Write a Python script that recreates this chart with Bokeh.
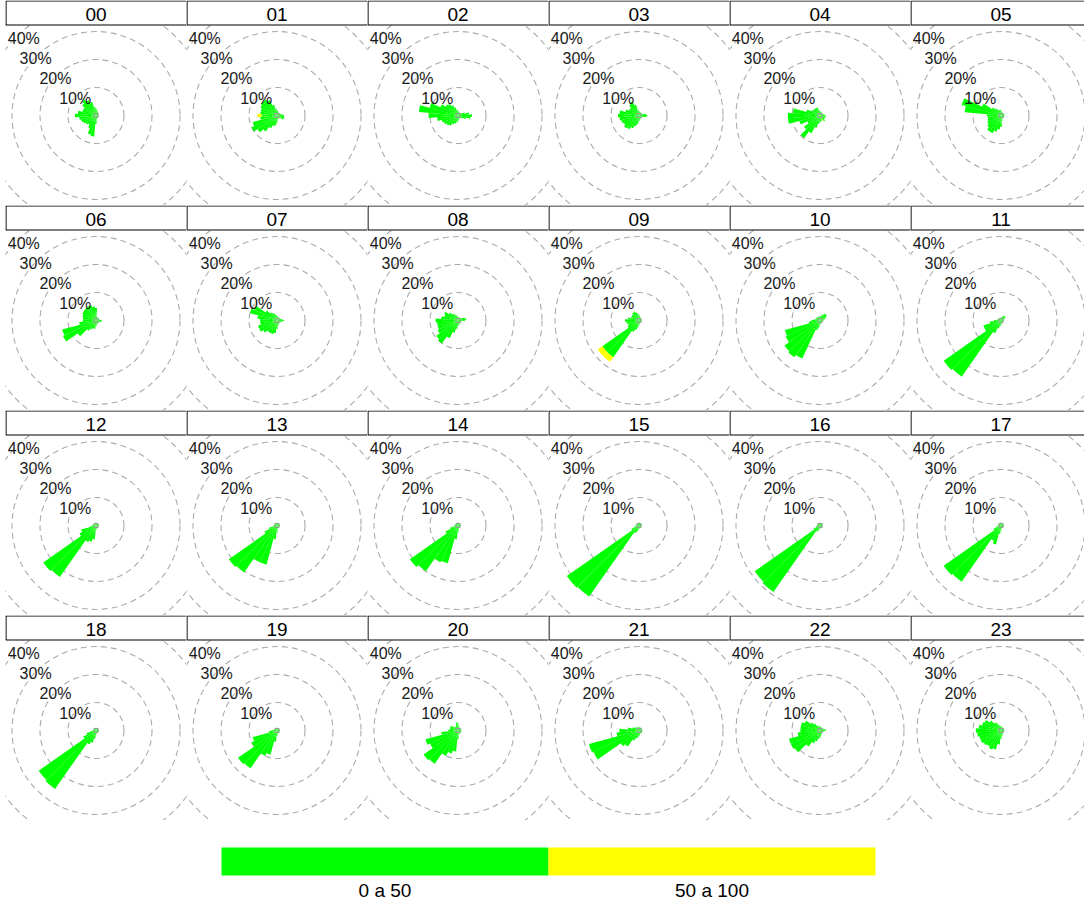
import numpy as np
from bokeh.plotting import figure
from bokeh.layouts import row, column, Spacer
from bokeh.models import Range1d, ColumnDataSource
from bokeh.embed import file_html
from bokeh.resources import INLINE
from bokeh.core.properties import value

# ---------------- data ----------------
DIRECTIONS = list(range(10, 361, 10))          # wind direction bins (deg, from north, clockwise)
HOURS = ["%02d" % h for h in range(24)]
RING_VALUES = [10, 20, 30, 40]
RING_LABELS = ["10%", "20%", "30%", "40%"]
LEGEND_LABELS = ["0 a 50", "50 a 100"]
LEGEND_COLORS = ["#00FF00", "#FFFF00"]

# frequency (%) of the "0 a 50" interval, per direction bin 10..360
H00 = [2, 1.5, 1.5, 1.2, 1, 1, 1, 1, 1, 1, 1, 1, 1, 1, 1, 1.2, 1.5, 3,
       7.5, 7, 5, 4, 4.5, 5, 5.5, 6, 7.5, 6.5, 5, 5, 6, 7, 6, 5, 3, 2.5]
H01 = [1.5, 1.5, 1.2, 1.2, 1.2, 1.2, 1.5, 2, 2.5, 2.5, 2.8, 2.5, 1.5, 1.2, 1.2, 1.2, 1.5, 2.5,
       3.5, 4, 5, 7, 8.5, 10, 9, 6, 5.5, 6, 6, 6.5, 7, 7, 6, 4, 2.5, 2]
H02 = [1.5, 1.2, 1.2, 1.2, 1.2, 1.5, 2.5, 4, 5, 4.5, 3, 2, 1.5, 1.2, 1.2, 1.2, 1.5, 2,
       2.5, 3, 3.5, 4.5, 5, 5.5, 6, 7.5, 10.5, 14, 10.5, 7, 5.5, 5, 4, 3, 2, 1.5]
H03 = [1.2, 1.2, 1.2, 1.2, 1.2, 1.2, 1.5, 2.5, 3, 2.5, 1.5, 1.2, 1.2, 1.2, 1.2, 1.2, 1.5, 2,
       3, 4, 5, 6, 6.5, 6, 6.5, 7, 7.5, 7, 5, 4, 4, 5, 5.5, 4, 2, 1.5]
H04 = [1.2, 1.2, 1.2, 1.2, 1.2, 1.2, 1.2, 1.5, 2, 2, 2, 2, 2, 2.5, 1.5, 2, 2, 2.5,
       3, 4.5, 7, 9.8, 7, 5, 7.6, 11.5, 11.5, 9.7, 5, 3.5, 3, 3, 3, 3, 2, 1.5]
H05 = [1.2, 1.2, 1.2, 1.2, 1.2, 1.2, 1.2, 1.2, 1.2, 1.2, 1.2, 1.2, 1.2, 1.2, 1.2, 1.2, 2, 4,
       5, 6, 7, 7, 6, 5.4, 5, 4.7, 5, 13, 14.5, 7.5, 4, 3, 2.5, 2, 2, 2]
H06 = [1.5, 1.2, 1.2, 1.2, 1.2, 1.2, 1.2, 1.5, 2, 2, 1.5, 1.2, 1.2, 1.2, 1.2, 1.2, 1.5, 2,
       3, 3, 3.5, 4.5, 8, 13, 12.5, 6, 4.7, 4.7, 5, 5.4, 5.5, 5.6, 5.8, 5.5, 5, 4.5]
H07 = [1.5, 1.2, 1.2, 1.2, 1.2, 1.2, 1.5, 2, 2.5, 2, 1.5, 1.2, 1.2, 1.2, 1.2, 1.5, 2, 3,
       4.5, 5, 5, 5, 6, 7, 7, 6, 6, 7, 10, 9, 5, 3.5, 3, 2.5, 2, 1.5]
H08 = [1.2, 1.2, 1.2, 1.2, 1.2, 1.5, 2.5, 3, 2.5, 1.5, 1.2, 1.2, 1.2, 1.2, 1.2, 1.5, 1.5, 2,
       3, 4.5, 7, 10, 9.5, 8, 7.5, 7.5, 8, 6, 5, 5.5, 4, 3, 2.5, 2, 1.5, 1.2]
H09 = [1.5, 1.2, 1.2, 1, 1, 1, 1, 1, 1, 1, 1, 1, 1, 1, 1, 1, 1.2, 1.5,
       2.5, 3.5, 4.5, 16, 16, 4.5, 4, 4.5, 5, 4, 3, 3, 3, 3.5, 3.5, 3, 2.5, 2]
H10 = [1.5, 2, 2.5, 3, 3, 2.5, 2, 1.5, 1.2, 1, 1, 1, 1, 1, 1, 1, 1.2, 1.5,
       2.5, 3.5, 15, 16, 15.5, 13.5, 13, 4, 3, 2, 1.5, 1.5, 1.5, 1.5, 1.5, 1.5, 1.5, 1.5]
H11 = [1.2, 1.5, 2, 2, 2, 1.5, 1.2, 1, 1, 1, 1, 1, 1, 1, 1, 1, 1.2, 1.5,
       2, 3, 5, 24.5, 25, 6.5, 6.5, 4, 2.5, 1.5, 1.2, 1, 1, 1, 1, 1, 1, 1]
H12 = [1, 1, 1, 1, 1, 1, 1, 1, 1, 1, 1, 1, 1, 1, 1, 1, 1.2, 1.5,
       5, 6, 6.5, 22.5, 23, 6.5, 5.5, 2, 1.5, 1.2, 1, 1, 1, 1, 1, 1, 1, 1]
H13 = [1, 1, 1, 1, 1, 1, 1, 1, 1, 1, 1, 1, 1, 1, 1, 1, 1.2, 2.5,
       5, 14.5, 14.5, 20.5, 21, 5, 3, 1.5, 1.2, 1, 1, 1, 1, 1, 1, 1, 1, 1]
H14 = [1, 1, 1, 1, 1, 1, 1, 1, 1, 1, 1, 1, 1, 1, 1, 1, 1.2, 2.5,
       5, 14, 14.5, 20, 21, 5, 3, 1.5, 1.2, 1, 1, 1, 1, 1, 1, 1, 1, 1]
H15 = [1, 1, 1, 1, 1, 1, 1, 1, 1, 1, 1, 1, 1, 1, 1, 1, 1, 1.2,
       1.5, 2.5, 3, 31, 31.5, 3, 2, 1.2, 1, 1, 1, 1, 1, 1, 1, 1, 1, 1]
H16 = [1, 1, 1, 1, 1, 1, 1, 1, 1, 1, 1, 1, 1, 1, 1, 1, 1, 1.2,
       1.2, 2, 2.5, 29, 28.5, 2.5, 1.5, 1.2, 1, 1, 1, 1, 1, 1, 1, 1, 1, 1]
H17 = [1, 1, 1, 1, 1, 1, 1, 1, 1, 1, 1, 1, 1, 1, 1, 1, 1.2, 1.5,
       3, 7, 6, 24.5, 25, 3, 2, 1.2, 1, 1, 1, 1, 1, 1, 1, 1, 1, 1]
H18 = [1, 1, 1, 1, 1, 1, 1, 1, 1, 1, 1, 1, 1, 1, 1, 1, 1.2, 1.5,
       3, 4.5, 5.5, 25.5, 25, 5, 3.5, 2, 1.2, 1, 1, 1, 1, 1, 1, 1, 1, 1]
H19 = [1, 1, 1, 1, 1, 1, 1, 1, 1, 1, 1, 1, 1, 1, 1, 1, 1.2, 2,
       4, 9, 10, 16.5, 17, 10, 9, 3, 2, 1.2, 1, 1, 1, 1, 1, 1, 1, 1]
H20 = [1.5, 1.2, 1.2, 1.2, 1.2, 1.2, 1.2, 1.2, 1.2, 1.2, 1.2, 1.2, 1.2, 1.2, 1.2, 1.2, 1.5, 3,
       7.5, 8.5, 10, 14.5, 15, 11, 12, 6, 3.5, 3, 3, 3, 2, 1.5, 1.5, 2, 3, 2.5]
H21 = [1.2, 1.2, 1.2, 1.2, 1.2, 1.2, 1.2, 1.2, 1.2, 1.2, 1.2, 1.2, 1.2, 1.2, 1.2, 1.2, 1.5, 2,
       2.5, 3, 4, 7, 8, 18, 18.5, 8, 7, 4, 2.5, 2, 1.5, 1.5, 1.2, 1.2, 1.2, 1.2]
H22 = [1.5, 1.2, 1.2, 1.2, 1.2, 1.2, 1.5, 2, 2, 1.5, 1.2, 1.2, 1.2, 1.2, 1.2, 1.5, 2, 2.5,
       3, 4, 5, 7, 11, 11.5, 11.5, 8, 7, 7, 7, 6, 4, 3, 2, 1.5, 1.5, 1.5]
H23 = [1.5, 1.2, 1.2, 1.2, 1.2, 1.2, 1.2, 1.2, 1.2, 1.2, 1.2, 1.2, 1.2, 1.2, 1.2, 1.5, 2, 3,
       5, 7, 7.5, 7, 7.5, 8, 8, 8.5, 9, 8, 7, 6.5, 5, 3.5, 3, 2, 1.5, 1.5]
GREEN = [H00, H01, H02, H03, H04, H05, H06, H07, H08, H09, H10, H11,
         H12, H13, H14, H15, H16, H17, H18, H19, H20, H21, H22, H23]

# frequency (%) of the "50 a 100" interval, only the non-zero bins {direction: %}
YELLOW = {"01": {270: 1.5}, "04": {150: 0.6}, "09": {220: 2.0, 230: 2.0}}

# ---------------- layout constants ----------------
PX = 2.8            # pixels per 1 %
PANEL_W = 181
PANEL_H = 205
HEAD_H = 24.5
CX = 90.5           # panel centre, px from left
CY = 115.0          # panel centre, px from top
FONT = value("Liberation Sans")
RING_COLOR = "#ababab"
LABEL_XOFF = [-1, -1, -1, 7]   # keep the outermost label inside the panel


def make_panel(idx, width):
    hour = HOURS[idx]
    x0 = -CX / PX
    p = figure(width=width, height=PANEL_H,
               x_range=Range1d(x0, x0 + width / PX),
               y_range=Range1d(-(PANEL_H - CY) / PX, CY / PX),
               output_backend="svg", toolbar_location=None,
               x_axis_type=None, y_axis_type=None, min_border=0,
               outline_line_color=None, background_fill_color="white",
               border_fill_color="white")

    # dashed rings
    p.circle(x=[0] * len(RING_VALUES), y=[0] * len(RING_VALUES), radius=RING_VALUES,
             fill_color=None, line_color=RING_COLOR, line_dash="6 4", line_width=1.1)

    # wedges
    dirs = np.array(DIRECTIONS, dtype=float)
    g = np.array(GREEN[idx], dtype=float)
    yv = np.array([YELLOW.get(hour, {}).get(d, 0.0) for d in DIRECTIONS], dtype=float)
    start = np.radians(90 - dirs - 5)
    end = np.radians(90 - dirs + 5)
    src = ColumnDataSource(dict(inner=np.zeros_like(g), outer=g, start=start, end=end))
    p.annular_wedge(x=0, y=0, inner_radius="inner", outer_radius="outer",
                    start_angle="start", end_angle="end", source=src,
                    fill_color=LEGEND_COLORS[0], line_color=None)
    mask = yv > 0
    if mask.any():
        src2 = ColumnDataSource(dict(inner=g[mask], outer=g[mask] + yv[mask],
                                     start=start[mask], end=end[mask]))
        p.annular_wedge(x=0, y=0, inner_radius="inner", outer_radius="outer",
                        start_angle="start", end_angle="end", source=src2,
                        fill_color=LEGEND_COLORS[1], line_color=None)

    # small centre hole
    p.scatter(x=[0], y=[0], marker="square", size=4, fill_color=None,
              line_color="#9a9a9a", line_width=1)

    # ring labels along the NW diagonal
    rv = np.array(RING_VALUES, dtype=float)
    lsrc = ColumnDataSource(dict(x=list(-rv * np.cos(np.pi / 4)), y=list(rv * np.sin(np.pi / 4)),
                                 t=RING_LABELS, xo=LABEL_XOFF))
    p.text(x="x", y="y", text="t", source=lsrc,
           text_font=FONT, text_font_size="16px", text_align="center",
           text_baseline="middle", x_offset="xo", y_offset=2.5, text_color="#1a1a1a")

    # strip header
    hb = (CY - HEAD_H) / PX
    ht = (CY + 2) / PX
    p.quad(left=[x0], right=[x0 + (width + 2) / PX], bottom=[hb], top=[ht],
           fill_color="white", line_color=None)
    xl = x0 + 0.5 / PX
    ytop = (CY - 0.5) / PX
    p.segment(x0=[x0, x0, xl], y0=[hb, ytop, hb], x1=[x0 + (width + 2) / PX] * 2 + [xl],
              y1=[hb, ytop, ytop], line_color="black", line_width=1.2)
    p.text(x=[0], y=[(CY - 14.0) / PX], text=[hour], text_font=FONT,
           text_font_size="19px", text_align="center", text_baseline="middle",
           text_color="black")
    return p


rows = []
for r in range(4):
    figs = []
    for c in range(6):
        w = PANEL_W if c < 5 else 1084 - 5 - 5 * PANEL_W
        figs.append(make_panel(r * 6 + c, w))
    rows.append(row(Spacer(width=5, height=PANEL_H), *figs))

# legend (colour key)
leg = figure(width=1084, height=80, x_range=Range1d(8, 1092), y_range=Range1d(-908, -828),
             output_backend="svg", toolbar_location=None, x_axis_type=None,
             y_axis_type=None, min_border=0, outline_line_color=None)
n = len(LEGEND_LABELS)
bar_l, bar_r = 229, 883
step = (bar_r - bar_l) / n
lefts = [bar_l + i * step for i in range(n)]
rights = [bar_l + (i + 1) * step for i in range(n)]
leg.quad(left=lefts, right=rights, top=[-855] * n, bottom=[-883] * n,
         fill_color=LEGEND_COLORS, line_color=None)
leg.text(x=[(a + b) / 2 for a, b in zip(lefts, rights)], y=[-898] * n, text=LEGEND_LABELS,
         text_font=FONT, text_font_size="19px", text_align="center",
         text_baseline="middle", text_color="black")

layout = column(*rows, leg)
open("out.html", "w").write(file_html(layout, INLINE))
